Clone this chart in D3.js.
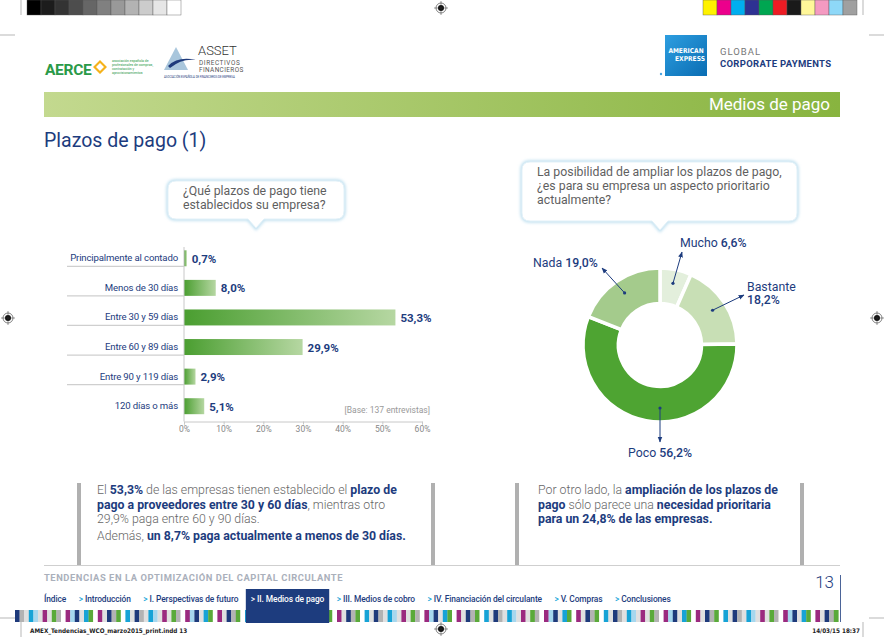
<!DOCTYPE html>
<html>
<head>
<meta charset="utf-8">
<script src="https://cdn.jsdelivr.net/npm/d3@7"></script>
<style>
  html, body { margin: 0; padding: 0; background: #fff; }
  svg { display: block; font-family: Roboto, "Open Sans", sans-serif; }
</style>
</head>
<body>
<svg id="page" width="884" height="637"></svg>
<script>
// ---- data ----
var plazos = ["Principalmente al contado", "Menos de 30 días", "Entre 30 y 59 días",
              "Entre 60 y 89 días", "Entre 90 y 119 días", "120 días o más"];
var plazosPct = [0.7, 8.0, 53.3, 29.9, 2.9, 5.1];
var xTicks = [0, 10, 20, 30, 40, 50, 60];

var prioridad = ["Mucho", "Bastante", "Poco", "Nada"];
var prioridadPct = [6.6, 18.2, 56.2, 19.0];

var navItems = ["Índice", "Introducción", "I. Perspectivas de futuro", "II. Medios de pago",
                "III. Medios de cobro", "IV. Financiación del circulante", "V. Compras", "Conclusiones"];

var grayChips = ["#000", "#1c1c1c", "#333", "#4d4d4d", "#666", "#808080", "#999", "#b3b3b3", "#ccc", "#e6e6e6", "#fff"];
var colorChips = ["#fff200", "#ec008c", "#00aeef", "#2e3192", "#00a651", "#ed1c24", "#1a1a1a", "#fff799", "#f49ac1", "#8ed8f8", "#a0a0a0"];
var stripeColors = ["#1e3a7b", "#b3b3b3", "#e0e0e0", "#17a3d6", "#a6d7ee", "#e0e0e0", "#9b2a7f", "#e0e0e0", "#5aaa3a",
                    "#b3b3b3", "#fff", "#9b2a7f", "#a6d7ee", "#1e3a7b", "#e0e0e0", "#17a3d6", "#5aaa3a", "#fff",
                    "#9b2a7f", "#e0e0e0", "#1e3a7b", "#b3b3b3", "#5aaa3a", "#fff", "#17a3d6", "#e0e0e0"];

var fmt = function(v) { return d3.format(".1f")(v).replace(".", ",") + "%"; };
var blue = "#1d3c7e", green = "#4ea432";
var narrow = "'Liberation Sans Narrow', 'DejaVu Sans Condensed', sans-serif";

var svg = d3.select("#page");
var defs = svg.append("defs");

// ---- printer marks ----
svg.append("g").selectAll("rect").data(grayChips).join("rect")
  .attr("x", function(d, i) { return 27 + i * 14; }).attr("y", 0)
  .attr("width", 14).attr("height", 15).attr("fill", function(d) { return d; })
  .attr("stroke", "#555").attr("stroke-width", 0.4);
svg.append("g").selectAll("rect").data(colorChips).join("rect")
  .attr("x", function(d, i) { return 703 + i * 14; }).attr("y", 0)
  .attr("width", 14).attr("height", 15).attr("fill", function(d) { return d; })
  .attr("stroke", "#555").attr("stroke-width", 0.4);

var cropLines = [[21, 0, 21, 15], [0, 35, 15, 35], [863, 0, 863, 15], [869, 35, 884, 35],
                 [0, 618, 15, 618], [21, 622, 21, 637], [869, 618, 884, 618], [863, 622, 863, 637]];
svg.append("g").selectAll("line").data(cropLines).join("line")
  .attr("x1", function(d) { return d[0]; }).attr("y1", function(d) { return d[1]; })
  .attr("x2", function(d) { return d[2]; }).attr("y2", function(d) { return d[3]; })
  .attr("stroke", "#999").attr("stroke-width", 0.7);

function regMark(cx, cy) {
  var g = svg.append("g").attr("transform", "translate(" + cx + "," + cy + ")");
  g.append("circle").attr("r", 5).attr("fill", "none").attr("stroke", "#333").attr("stroke-width", 0.6);
  g.append("circle").attr("r", 3).attr("fill", "#111");
  g.append("line").attr("x1", -7).attr("x2", 7).attr("stroke", "#333").attr("stroke-width", 0.5);
  g.append("line").attr("y1", -7).attr("y2", 7).attr("stroke", "#333").attr("stroke-width", 0.5);
}
regMark(441, 8); regMark(441, 629); regMark(8, 318); regMark(877, 318);

// ---- logos ----
var logo = svg.append("g");
logo.append("text").attr("x", 45).attr("y", 75).attr("font-size", 15.5).attr("font-weight", 700)
  .attr("fill", "#2a9a48").attr("letter-spacing", -0.3).text("AERCE");
logo.append("path").attr("d", "M100,60 l7,7 l-7,7 l-7,-7z M100,63 l4,4 l-4,4 l-4,-4z")
  .attr("fill", "#f5b21b").attr("fill-rule", "evenodd");
["asociación española de", "profesionales de compras,", "contratación y", "aprovisionamientos"].forEach(function(t, i) {
  logo.append("text").attr("x", 112).attr("y", 62 + i * 4).attr("font-size", 3.5)
    .attr("fill", "#2a9a48").text(t);
});
logo.append("path").attr("d", "M164,70 L176,47 L188,70 Z").attr("fill", "#a9c6dc");
logo.append("path").attr("d", "M168,66 Q178,56 196,60 Q182,58 170,68 Z").attr("fill", "#1e3a7b");
logo.append("text").attr("x", 198).attr("y", 55).attr("font-size", 13).attr("font-weight", 300)
  .attr("fill", "#333").text("ASSET");
logo.append("text").attr("x", 199).attr("y", 64.8).attr("font-size", 6.4).attr("fill", "#555")
  .attr("letter-spacing", 0.6).text("DIRECTIVOS");
logo.append("text").attr("x", 199).attr("y", 71.8).attr("font-size", 6.4).attr("fill", "#555")
  .attr("letter-spacing", 0.4).text("FINANCIEROS");
logo.append("text").attr("x", 164).attr("y", 77.8).attr("font-size", 2.8).attr("fill", "#1e3a7b")
  .text("ASOCIACIÓN ESPAÑOLA DE FINANCIEROS DE EMPRESA");

var amexGrad = defs.append("linearGradient").attr("id", "amex").attr("x1", 0).attr("y1", 0).attr("x2", 1).attr("y2", 1);
amexGrad.append("stop").attr("offset", 0).attr("stop-color", "#2d9ee0");
amexGrad.append("stop").attr("offset", 1).attr("stop-color", "#0a6db3");
logo.append("rect").attr("x", 665).attr("y", 35).attr("width", 42).attr("height", 41).attr("fill", "url(#amex)");
logo.append("text").attr("x", 686).attr("y", 53).attr("text-anchor", "middle").attr("font-size", 6.6)
  .attr("font-weight", 700).attr("fill", "#fff").attr("font-family", narrow).text("AMERICAN");
logo.append("text").attr("x", 690).attr("y", 61).attr("text-anchor", "middle").attr("font-size", 6.6)
  .attr("font-weight", 700).attr("fill", "#fff").attr("font-family", narrow).text("EXPRESS");
logo.append("circle").attr("cx", 661).attr("cy", 74).attr("r", 1.2).attr("fill", "#4aa3e0");
logo.append("text").attr("x", 720).attr("y", 55).attr("font-size", 9.5).attr("fill", "#777")
  .attr("letter-spacing", 1).text("GLOBAL");
logo.append("text").attr("x", 720).attr("y", 67).attr("font-size", 9.5).attr("font-weight", 700)
  .attr("fill", blue).attr("letter-spacing", 0.3).text("CORPORATE PAYMENTS");

// ---- section band + title ----
var band = defs.append("linearGradient").attr("id", "band");
band.append("stop").attr("offset", 0).attr("stop-color", "#c3d98f");
band.append("stop").attr("offset", 1).attr("stop-color", "#88b43f");
svg.append("rect").attr("x", 44).attr("y", 92).attr("width", 796).attr("height", 25).attr("fill", "url(#band)");
svg.append("text").attr("x", 830).attr("y", 110).attr("text-anchor", "end").attr("font-size", 17)
  .attr("fill", "#fff").text("Medios de pago");
svg.append("text").attr("x", 44).attr("y", 147).attr("font-size", 19.5).attr("fill", blue)
  .text("Plazos de pago (1)");

// ---- speech bubbles ----
var glow = defs.append("filter").attr("id", "glow").attr("x", "-10%").attr("y", "-20%").attr("width", "120%").attr("height", "140%");
glow.append("feGaussianBlur").attr("stdDeviation", 1.5);

function bubble(x, y, w, h, px, lines) {
  var g = svg.append("g");
  var path = "M" + (x + 8) + "," + y + " H" + (x + w - 8) + " Q" + (x + w) + "," + y + " " + (x + w) + "," + (y + 8) +
    " V" + (y + h - 8) + " Q" + (x + w) + "," + (y + h) + " " + (x + w - 8) + "," + (y + h) +
    " H" + (px + 8) + " L" + px + "," + (y + h + 9) + " L" + (px - 8) + "," + (y + h) +
    " H" + (x + 8) + " Q" + x + "," + (y + h) + " " + x + "," + (y + h - 8) +
    " V" + (y + 8) + " Q" + x + "," + y + " " + (x + 8) + "," + y + " Z";
  g.append("path").attr("d", path).attr("fill", "none").attr("stroke", "#bfe0f0").attr("stroke-width", 3.5).attr("filter", "url(#glow)");
  g.append("path").attr("d", path).attr("fill", "#fff").attr("stroke", "#e3f1f8").attr("stroke-width", 1);
  lines.forEach(function(t, i) {
    g.append("text").attr("x", x + 15).attr("y", y + 14 + i * 14).attr("font-size", 12.3)
      .attr("fill", "#5f5f5f").text(t);
  });
}
bubble(168, 181, 176, 38, 256, ["¿Qué plazos de pago tiene", "establecidos su empresa?"]);
bubble(522, 162, 275, 59, 660, ["La posibilidad de ampliar los plazos de pago,", "¿es para su empresa un aspecto prioritario", "actualmente?"]);

// ---- bar chart ----
var x = d3.scaleLinear().domain([0, 60]).range([184, 422]);
var y = d3.scaleBand().domain(plazos).range([243.5, 421]).paddingInner(0.46).paddingOuter(0.23);

var barGrad = defs.append("linearGradient").attr("id", "bar").attr("x1", 0).attr("x2", 1);
barGrad.append("stop").attr("offset", 0).attr("stop-color", "#4a9e30");
barGrad.append("stop").attr("offset", 1).attr("stop-color", "#b6d7a2");

var bars = svg.append("g");
bars.selectAll("line.sep").data(plazos.slice(0, 5)).join("line").attr("class", "sep")
  .attr("x1", 67).attr("x2", x(0))
  .attr("y1", function(d) { return y(d) + y.bandwidth(); }).attr("y2", function(d) { return y(d) + y.bandwidth(); })
  .attr("stroke", "#cfcfcf").attr("stroke-width", 1.3);
bars.selectAll("text.cat").data(plazos).join("text").attr("class", "cat")
  .attr("x", 178).attr("y", function(d) { return y(d) + y.bandwidth() / 2 + 3; })
  .attr("text-anchor", "end").attr("font-size", 9.6).attr("fill", blue).attr("letter-spacing", -0.15)
  .text(function(d) { return d; });
bars.selectAll("rect").data(plazosPct).join("rect")
  .attr("x", x(0)).attr("y", function(d, i) { return y(plazos[i]); })
  .attr("width", function(d) { return x(d) - x(0); }).attr("height", y.bandwidth())
  .attr("fill", "url(#bar)");
bars.selectAll("text.val").data(plazosPct).join("text").attr("class", "val")
  .attr("x", function(d) { return x(d) + 5; }).attr("y", function(d, i) { return y(plazos[i]) + y.bandwidth() / 2 + 4.5; })
  .attr("font-size", 11.5).attr("font-weight", 700).attr("fill", blue)
  .text(function(d) { return fmt(d); });

var axis = svg.append("g").attr("transform", "translate(0,421.5)")
  .call(d3.axisBottom(x).tickValues(xTicks).tickSize(3).tickFormat(function(d) { return d + "%"; }));
axis.select(".domain").attr("stroke", "#c8c8c8");
axis.selectAll(".tick line").attr("stroke", "#c8c8c8");
axis.selectAll(".tick text").attr("font-size", 8.5).attr("fill", "#888").attr("font-family", "Roboto, sans-serif").attr("dy", "0.5em");
svg.append("line").attr("x1", x(0)).attr("x2", x(0)).attr("y1", 247).attr("y2", 421.5)
  .attr("stroke", "#c8c8c8").attr("stroke-width", 1);
svg.append("text").attr("x", 430).attr("y", 413).attr("text-anchor", "end").attr("font-size", 8.5)
  .attr("fill", "#999").text("[Base: 137 entrevistas]");

// ---- donut ----
var cx = 660, cy = 345;
var pie = d3.pie().sort(null).value(function(d) { return d; });
var arc = d3.arc().innerRadius(41.5).outerRadius(77);
var donutColors = ["#e3efdc", "#c8dfb5", green, "#a4cb8c"];
var donut = svg.append("g").attr("transform", "translate(" + cx + "," + cy + ")");
var arcs = pie(prioridadPct);
donut.selectAll("path").data(arcs).join("path")
  .attr("d", arc).attr("fill", function(d, i) { return donutColors[i]; })
  .attr("stroke", "#fff").attr("stroke-width", 3.5);

// annotation layout: where each arrow points to and where its label sits
var annot = [
  { angle: null, end: [682, 252], lines: [[prioridad[0] + " ", fmt(prioridadPct[0])]], tx: 680, ty: 247 },
  { angle: null, end: [744, 295], lines: [[prioridad[1], ""], ["", fmt(prioridadPct[1])]], tx: 747, ty: 291 },
  { angle: Math.PI, end: [660, 442], lines: [[prioridad[2] + " ", fmt(prioridadPct[2])]], tx: 628, ty: 457 },
  { angle: null, end: [602, 268], lines: [[prioridad[3] + " ", fmt(prioridadPct[3])]], tx: 533, ty: 267 }
];
defs.append("marker").attr("id", "arrow").attr("viewBox", "0 0 10 10").attr("refX", 9).attr("refY", 5)
  .attr("markerWidth", 6).attr("markerHeight", 6).attr("orient", "auto-start-reverse")
  .append("path").attr("d", "M0,1 L10,5 L0,9 Z").attr("fill", blue);

var labels = svg.append("g");
arcs.forEach(function(a, i) {
  var ang = annot[i].angle !== null ? annot[i].angle : (a.startAngle + a.endAngle) / 2;
  var sx = cx + 63 * Math.sin(ang), sy = cy - 63 * Math.cos(ang);
  labels.append("circle").attr("cx", sx).attr("cy", sy).attr("r", 1.6).attr("fill", blue);
  labels.append("line").attr("x1", sx).attr("y1", sy).attr("x2", annot[i].end[0]).attr("y2", annot[i].end[1])
    .attr("stroke", blue).attr("stroke-width", 1).attr("marker-end", "url(#arrow)");
  annot[i].lines.forEach(function(l, j) {
    var t = labels.append("text").attr("x", annot[i].tx).attr("y", annot[i].ty + j * 13)
      .attr("font-size", 12.3).attr("fill", blue);
    if (l[0]) t.append("tspan").text(l[0]);
    if (l[1]) t.append("tspan").attr("font-weight", 500).text(l[1]);
  });
});

// ---- commentary boxes ----
function vbar(xp) {
  svg.append("rect").attr("x", xp - 2).attr("y", 483).attr("width", 4).attr("height", 82).attr("fill", "#b0b0b0");
}
vbar(79); vbar(433); vbar(517); vbar(802);

function rich(xp, yp, parts) {
  var t = svg.append("text").attr("x", xp).attr("y", yp).attr("font-size", 12.3);
  parts.forEach(function(p) {
    t.append("tspan").attr("fill", p[1] ? blue : "#666").attr("font-weight", p[1] ? 700 : 300).text(p[0]);
  });
}
rich(97, 494, [["El ", 0], ["53,3%", 1], [" de las empresas tienen establecido el ", 0], ["plazo de", 1]]);
rich(97, 509, [["pago a proveedores entre 30 y 60 días", 1], [", mientras otro", 0]]);
rich(97, 523, [["29,9% paga entre 60 y 90 días.", 0]]);
rich(97, 540, [["Además, ", 0], ["un 8,7% paga actualmente a menos de 30 días.", 1]]);

rich(538, 494, [["Por otro lado, la ", 0], ["ampliación de los plazos de", 1]]);
rich(538, 509, [["pago", 1], [" sólo parece una ", 0], ["necesidad prioritaria", 1]]);
rich(538, 523, [["para un 24,8% de las empresas.", 1]]);

// ---- footer ----
svg.append("line").attr("x1", 44).attr("x2", 840).attr("y1", 565.5).attr("y2", 565.5).attr("stroke", "#cfcfcf");
svg.append("text").attr("x", 44).attr("y", 581).attr("font-size", 9.4).attr("font-weight", 700)
  .attr("fill", "#aab0bb").attr("letter-spacing", 0.55).text("TENDENCIAS EN LA OPTIMIZACIÓN DEL CAPITAL CIRCULANTE");
svg.append("text").attr("x", 834).attr("y", 588).attr("text-anchor", "end").attr("font-size", 17)
  .attr("font-weight", 300).attr("fill", blue).text("13");
svg.append("line").attr("x1", 840.5).attr("x2", 840.5).attr("y1", 575).attr("y2", 622).attr("stroke", blue).attr("stroke-width", 0.8);

var stripeW = 4.6;
var nStripes = Math.floor((840 - 15) / stripeW);
svg.append("g").selectAll("rect").data(d3.range(nStripes)).join("rect")
  .attr("x", function(i) { return 15 + i * stripeW; }).attr("y", 610)
  .attr("width", stripeW + 0.2).attr("height", 12)
  .attr("fill", function(i) { return stripeColors[i % stripeColors.length]; });

var nav = svg.append("g").attr("font-size", 8.4).attr("font-weight", 500).attr("letter-spacing", -0.1);
var navX = 44;
navItems.forEach(function(item, i) {
  var active = item === "II. Medios de pago";
  var t = nav.append("text").attr("x", navX).attr("y", 602);
  if (i > 0) t.append("tspan").attr("fill", active ? "#fff" : "#0fa3d8").text("> ");
  t.append("tspan").attr("fill", active ? "#fff" : blue).text(item);
  var w = t.node().getComputedTextLength();
  if (active) {
    nav.insert("rect", "text").attr("x", navX - 5).attr("y", 589).attr("width", w + 10).attr("height", 34).attr("fill", blue);
  }
  navX += w + 12.5;
});

svg.append("text").attr("x", 30).attr("y", 633).attr("font-size", 6.3).attr("font-weight", 700)
  .attr("fill", "#222").attr("font-family", narrow)
  .text("AMEX_Tendencias_WCO_marzo2015_print.indd   13");
svg.append("text").attr("x", 860).attr("y", 633).attr("text-anchor", "end").attr("font-size", 6.3).attr("font-weight", 700)
  .attr("fill", "#222").attr("font-family", narrow)
  .text("14/03/15   18:37");
</script>
</body>
</html>
